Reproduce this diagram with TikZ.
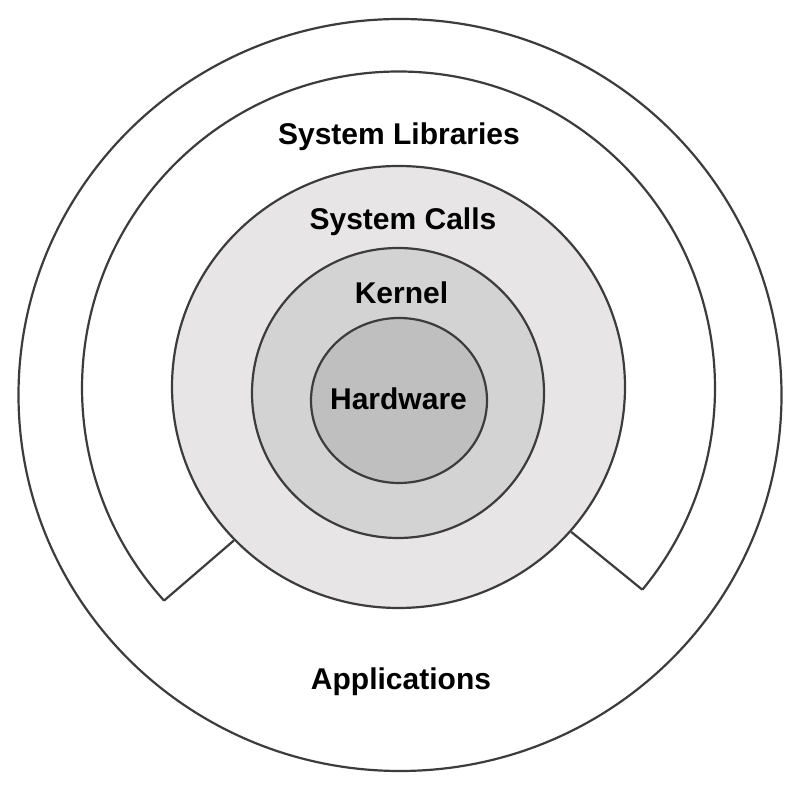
\documentclass[tikz,border=0pt]{standalone}
\usepackage{fontspec}
\setmainfont{Liberation Sans}
\usetikzlibrary{shapes.geometric,calc}
\definecolor{ringline}{HTML}{3C3C3C}
\definecolor{callsfill}{HTML}{E7E5E6}
\definecolor{kernelfill}{HTML}{D3D3D3}
\definecolor{hwfill}{HTML}{BFBFBF}
\begin{document}
\begin{tikzpicture}[x=1pt,y=1pt,
  ring/.style={ellipse, draw=ringline, line width=2.2pt, inner sep=0pt},
  lbl/.style={font=\fontsize{30}{30}\selectfont\bfseries, text=black, anchor=base, inner sep=0pt},
  edge/.style={draw=ringline, line width=2.2pt, line join=miter}]
\useasboundingbox (0,0) rectangle (800,789);
\fill[white] (0,0) rectangle (800,789);
% outer ring (Applications)
\node[ring, minimum width=763pt, minimum height=752pt] (outer) at (400,394) {};
% System Libraries open arc
\coordinate (libc) at (398.5,401);
\coordinate (libR) at ($(libc)+(-39.6:316.5)$);
\draw[edge] (libR) arc[start angle=-39.6, end angle=222.2, radius=316.5] coordinate (libL);
% System Calls
\node[ring, fill=callsfill, minimum width=453pt, minimum height=442pt] (calls) at (398.5,402) {};
\node[ring, fill=kernelfill, minimum width=292pt, minimum height=290pt] (kernel) at (398,396) {};
\node[ring, fill=hwfill, minimum width=176pt, minimum height=165pt] (hw) at (399,388.5) {};
% gap edges
\draw[edge] (libL) -- (calls.223);
\draw[edge] (libR) -- (calls.320);
% labels
\node[lbl] (tlib) at (399,644) {System Libraries};
\node[lbl] (tcalls) at (403,559) {System Calls};
\node[lbl] (tkernel) at (401.5,485) {Kernel};
\node[lbl] (thw) at (398.5,379) {Hardware};
\node[lbl] (tapp) at (401,99) {Applications};
\end{tikzpicture}
\end{document}
